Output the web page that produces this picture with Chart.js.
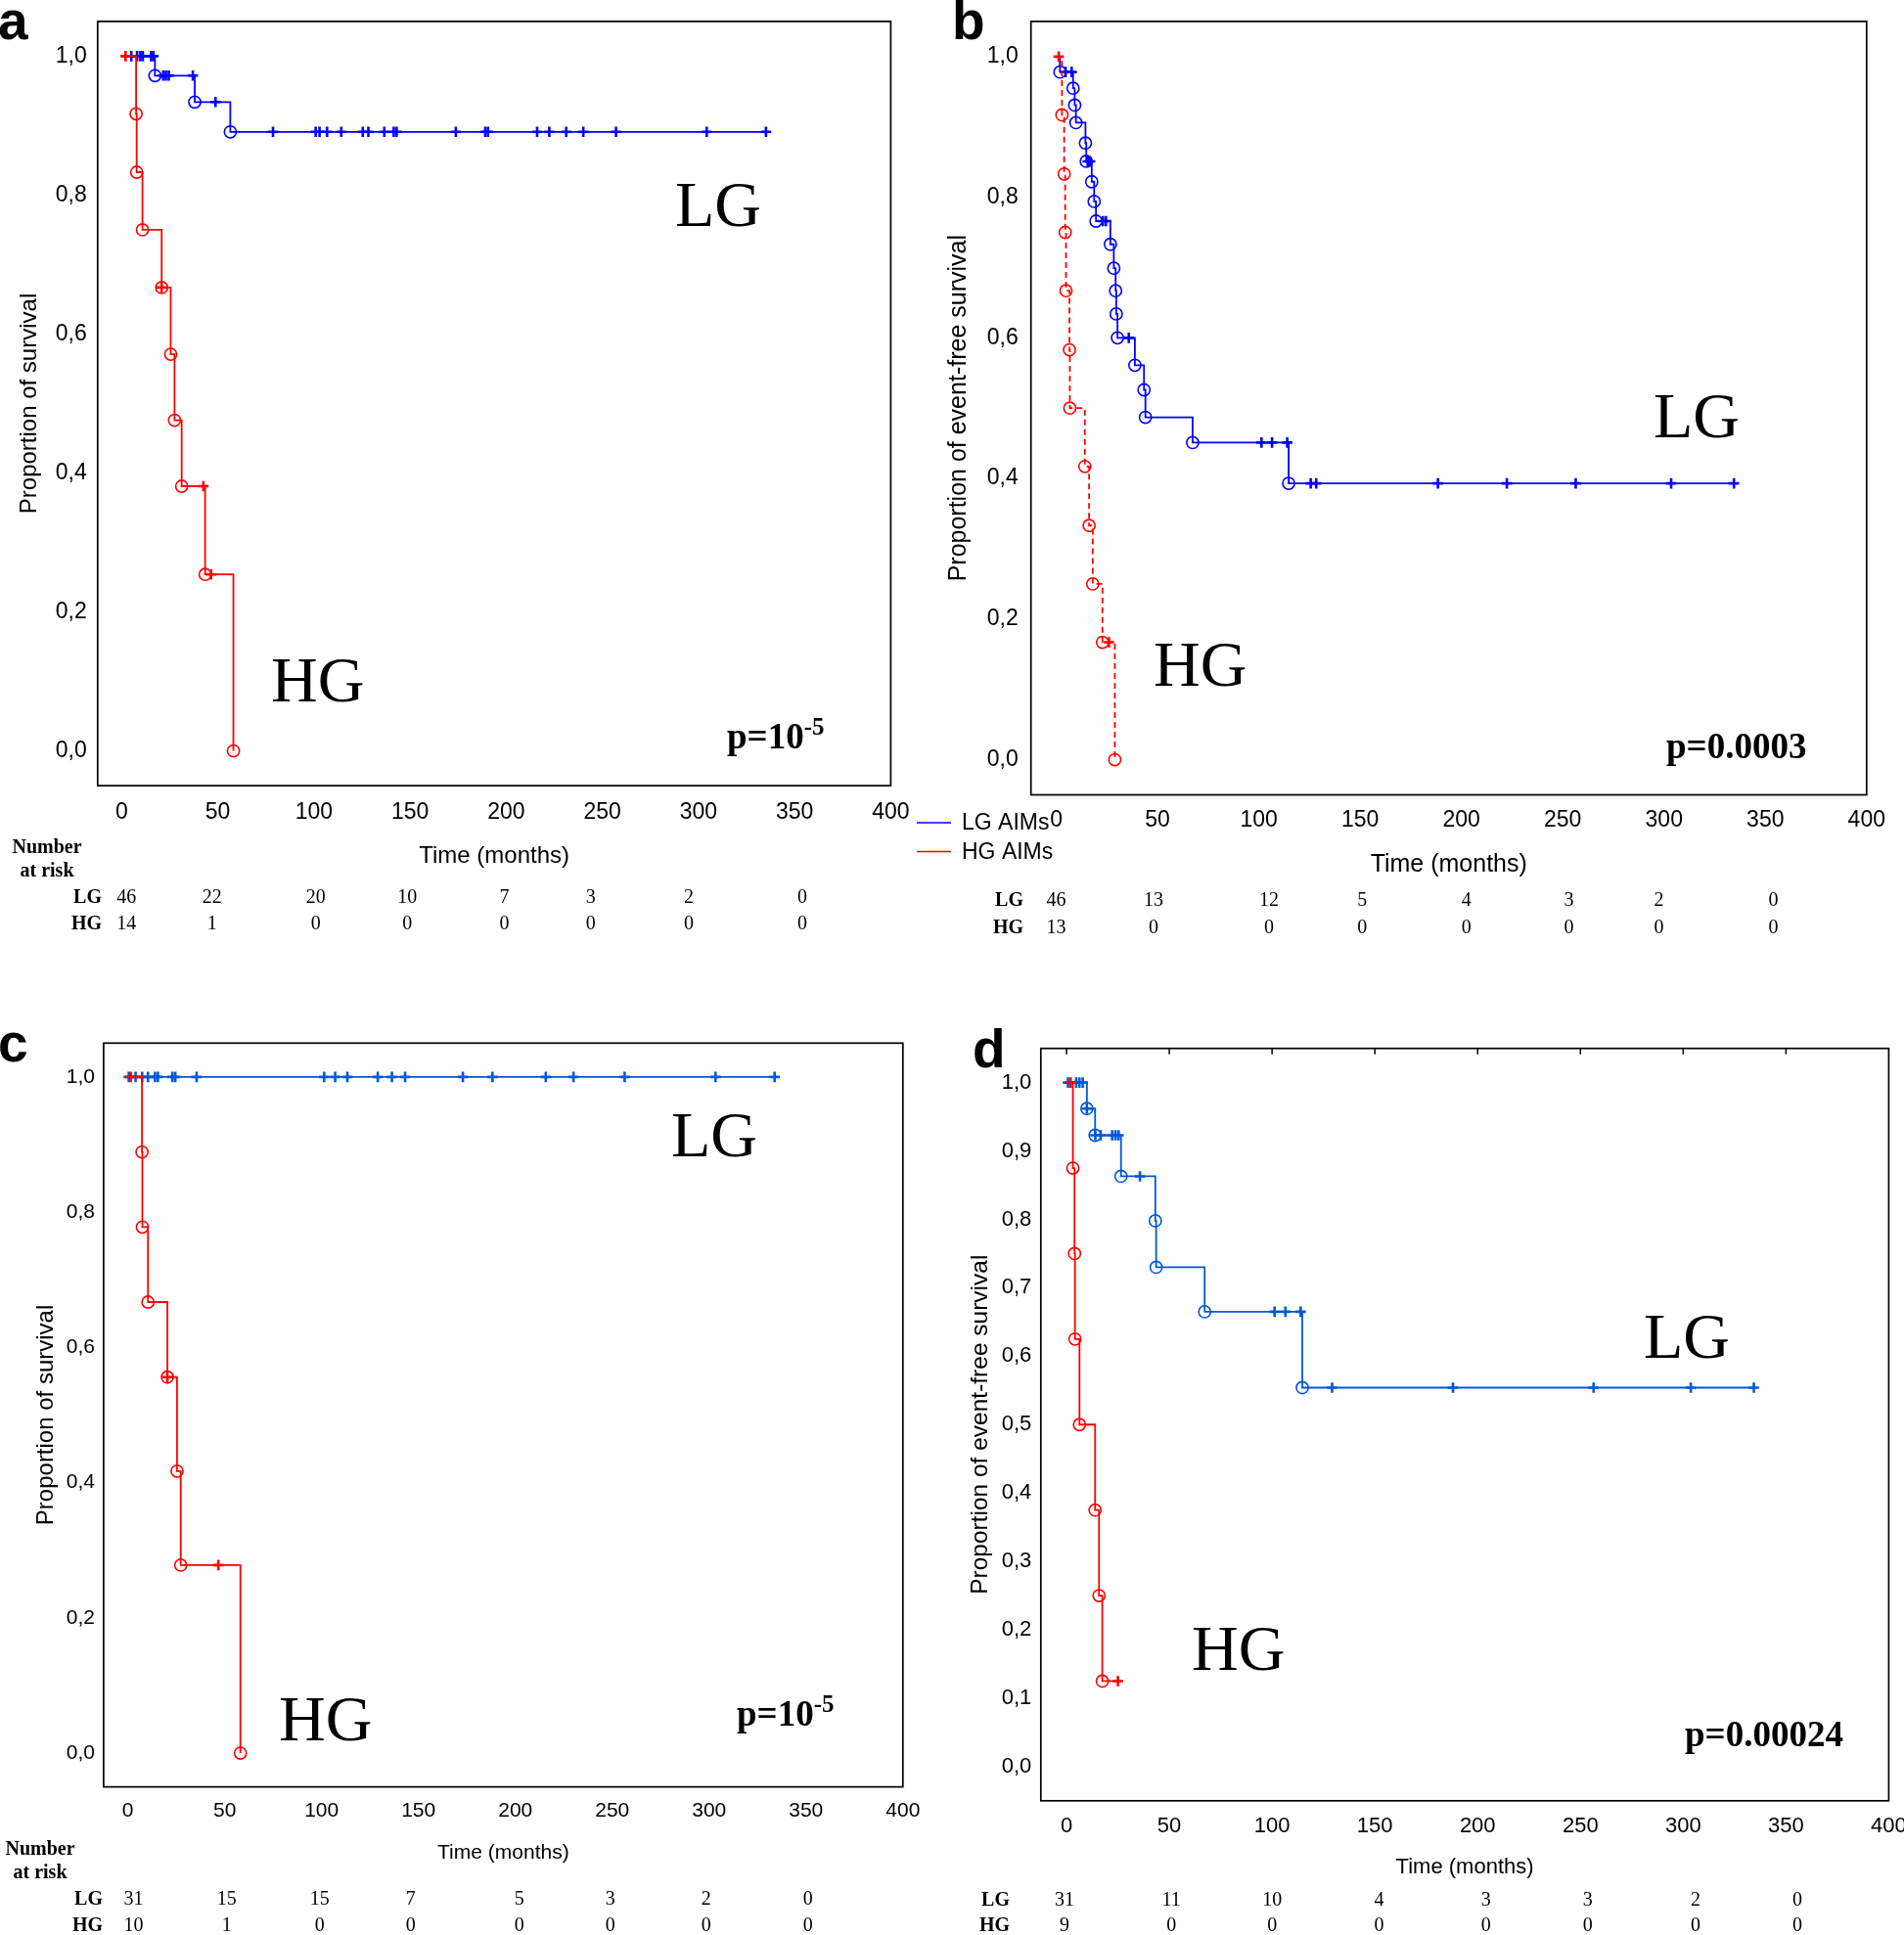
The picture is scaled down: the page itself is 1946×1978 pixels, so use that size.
<!DOCTYPE html>
<html>
<head>
<meta charset="utf-8">
<title>Kaplan-Meier curves LG vs HG</title>
<script src="https://cdn.jsdelivr.net/npm/chart.js@4.4.1/dist/chart.umd.min.js"></script>
<style>
html, body { margin: 0; padding: 0; background: #ffffff; }
#wrap { position: relative; width: 1946px; height: 1978px; overflow: hidden; background: #ffffff; }
#wrap canvas { position: absolute; left: 0; top: 0; }
</style>
</head>
<body>
<div id="wrap">
  <canvas id="chartA" width="1946" height="1978"></canvas>
  <canvas id="chartB" width="1946" height="1978"></canvas>
  <canvas id="chartC" width="1946" height="1978"></canvas>
  <canvas id="chartD" width="1946" height="1978"></canvas>
</div>
<script>
// ------------------------------------------------------------------
// DATA
// ------------------------------------------------------------------
const xTickValues = [0, 50, 100, 150, 200, 250, 300, 350, 400];
const xTickLabels = ['0', '50', '100', '150', '200', '250', '300', '350', '400'];
const yTickValuesStep2 = [0, 0.2, 0.4, 0.6, 0.8, 1.0];
const yTickLabelsStep2 = ['0,0', '0,2', '0,4', '0,6', '0,8', '1,0'];
const yTickValuesStep1 = [0, 0.1, 0.2, 0.3, 0.4, 0.5, 0.6, 0.7, 0.8, 0.9, 1.0];
const yTickLabelsStep1 = ['0,0', '0,1', '0,2', '0,3', '0,4', '0,5', '0,6', '0,7', '0,8', '0,9', '1,0'];
const groupNames = ['LG', 'HG'];
const legendLabels = ['LG AIMs', 'HG AIMs'];

// Panel a : overall survival
const aLGEventTimes = [17.3, 38, 56.5];
const aLGEventSurv  = [0.972, 0.934, 0.891];
const aLGCensorTimes = [5, 8, 9.7, 11, 15.3, 16.5, 21.6, 23, 24.5, 37, 48.8, 78.7, 100.9, 102.9, 106.8, 114.2, 125.4, 128.3, 136.6, 141.5, 143, 173.8, 189.1, 190.5, 216.1, 222.4, 231.2, 240.1, 257.1, 304.3, 335.1];
const aHGEventTimes = [7.5, 7.8, 10.8, 20.8, 25.5, 27.5, 31.2, 43.4, 58.1];
const aHGEventSurv  = [0.917, 0.833, 0.75, 0.667, 0.571, 0.476, 0.381, 0.254, 0];
const aHGCensorTimes = [2, 20.8, 42.5, 46.5];
const aRiskLG = [46, 22, 20, 10, 7, 3, 2, 0];
const aRiskHG = [14, 1, 0, 0, 0, 0, 0, 0];

// Panel b : event-free survival
const bLGEventTimes = [1.8, 8.3, 9.1, 9.7, 14.4, 14.8, 17.5, 18.7, 19.6, 26.7, 28.4, 29.3, 29.6, 30.2, 38.8, 43.3, 44, 67.3, 114.7];
const bLGEventSurv  = [0.978, 0.955, 0.931, 0.906, 0.877, 0.851, 0.822, 0.794, 0.766, 0.733, 0.699, 0.667, 0.634, 0.600, 0.561, 0.526, 0.487, 0.451, 0.393];
const bLGCensorTimes = [4.6, 7.6, 15.5, 16.7, 23, 24.5, 35.8, 101.3, 106.5, 114, 125.6, 128.3, 188.4, 222.4, 256.4, 303.5, 334.5];
const bHGEventTimes = [2.8, 3.9, 4.4, 4.8, 6.5, 6.7, 14.1, 16.2, 18, 22.8, 28.9];
const bHGEventSurv  = [0.917, 0.833, 0.75, 0.667, 0.583, 0.5, 0.417, 0.333, 0.25, 0.167, 0];
const bHGCensorTimes = [1.2, 26];
const bRiskLG = [46, 13, 12, 5, 4, 3, 2, 0];
const bRiskHG = [13, 0, 0, 0, 0, 0, 0, 0];

// Panel c : overall survival (subgroup)
const cLGEventTimes = [];
const cLGEventSurv  = [];
const cLGCensorTimes = [0.5, 4, 7.4, 10.4, 14, 15.5, 23, 24.5, 35.5, 101.3, 107, 113.3, 129, 136.3, 143.1, 172.9, 188.2, 215.7, 230, 256.4, 303.3, 333.8];
const cHGEventTimes = [7.3, 7.5, 10.4, 20.4, 25.4, 27.3, 58.1];
const cHGEventSurv  = [0.889, 0.778, 0.667, 0.556, 0.417, 0.278, 0];
const cHGCensorTimes = [1.5, 20.4, 46.7];
const cRiskLG = [31, 15, 15, 7, 5, 3, 2, 0];
const cRiskHG = [10, 1, 0, 0, 0, 0, 0, 0];

// Panel d : event-free survival (subgroup)
const dLGEventTimes = [9.9, 13.9, 26.5, 43.2, 43.6, 67.2, 114.7];
const dLGEventSurv  = [0.962, 0.923, 0.863, 0.798, 0.730, 0.665, 0.554];
const dLGCensorTimes = [0.7, 4.7, 6.3, 7.9, 9.9, 14, 16.6, 22.2, 23.8, 25.3, 35.7, 101.2, 106.5, 113.9, 129.2, 188, 256.4, 303.7, 334.4];
const dHGEventTimes = [3.1, 3.9, 4.1, 6.3, 13.9, 15.8, 17.4];
const dHGEventSurv  = [0.875, 0.75, 0.625, 0.5, 0.375, 0.25, 0.125];
const dHGCensorTimes = [2, 25];
const dRiskLG = [31, 11, 10, 4, 3, 3, 2, 0];
const dRiskHG = [9, 0, 0, 0, 0, 0, 0, 0];

// ------------------------------------------------------------------
// LAYOUT / STYLE (page pixels)
// ------------------------------------------------------------------
const SANS = '"Liberation Sans", Arial, Helvetica, sans-serif';
const SERIF = '"Liberation Serif", "Times New Roman", Times, serif';
const RED = '#ff0000';
const BLUE = '#0000ff';
const BLUE2 = '#0058d6';
const PAGE_W = 1946, PAGE_H = 1978;

const panels = [
  {
    canvas: 'chartA', letter: 'a', letterX: -2, letterY: 40,
    box: { left: 99.8, right: 910.4, top: 21.9, bottom: 803.1 },
    blue: BLUE, hgDash: [],
    tickSize: 23, xTitleSize: 24, yTitleSize: 24,
    yTitle: 'Proportion of survival', yTitleX: 30.6, xTitleY: 875,
    yTickPad: 11, xTickPad: 14.2,
    yTicks: yTickValuesStep2, yLabels: yTickLabelsStep2,
    lg: { x: 690, y: 231 }, hg: { x: 277, y: 717 },
    p: { main: 'p=10', sup: '-5', x: 743, y: 765 },
    km: { lg: [aLGEventTimes, aLGEventSurv, aLGCensorTimes], hg: [aHGEventTimes, aHGEventSurv, aHGCensorTimes] },
    risk: { lg: aRiskLG, hg: aRiskHG, rows: [917.5, 945], labelRight: 104, cols: [2.5, 47, 101, 148.5, 199, 244, 295, 354] },
    numberAtRisk: { x: 48, y1: 867, y2: 891 }
  },
  {
    canvas: 'chartB', letter: 'b', letterX: 973, letterY: 40,
    box: { left: 1053.7, right: 1907.8, top: 21.9, bottom: 812.5 },
    blue: BLUE, hgDash: [6, 4],
    tickSize: 23, xTitleSize: 25, yTitleSize: 25,
    yTitle: 'Proportion of event-free survival', yTitleX: 980, xTitleY: 884,
    yTickPad: 13, xTickPad: 12.7,
    yTicks: yTickValuesStep2, yLabels: yTickLabelsStep2,
    lg: { x: 1690, y: 447 }, hg: { x: 1179, y: 701 },
    p: { main: 'p=0.0003', sup: '', x: 1703, y: 775 },
    km: { lg: [bLGEventTimes, bLGEventSurv, bLGCensorTimes], hg: [bHGEventTimes, bHGEventSurv, bHGCensorTimes] },
    risk: { lg: bRiskLG, hg: bRiskHG, rows: [920.6, 948.8], labelRight: 1046, cols: [0, 48, 105, 151, 202.5, 253, 297.5, 354] },
    legend: { x0: 937, x1: 972, tx: 983, y: [841, 870.5] }
  },
  {
    canvas: 'chartC', letter: 'c', letterX: -2, letterY: 1085,
    box: { left: 105.9, right: 922.8, top: 1066.3, bottom: 1826.6 },
    blue: BLUE2, hgDash: [],
    tickSize: 21, xTitleSize: 21, yTitleSize: 24,
    yTitle: 'Proportion of survival', yTitleX: 47, xTitleY: 1894,
    yTickPad: 9, xTickPad: 12.5,
    yTicks: yTickValuesStep2, yLabels: yTickLabelsStep2,
    lg: { x: 686, y: 1182 }, hg: { x: 285, y: 1778.6 },
    p: { main: 'p=10', sup: '-5', x: 753, y: 1764 },
    km: { lg: [cLGEventTimes, cLGEventSurv, cLGCensorTimes], hg: [cHGEventTimes, cHGEventSurv, cHGCensorTimes] },
    risk: { lg: cRiskLG, hg: cRiskHG, rows: [1942, 1969], labelRight: 105, cols: [3, 51, 99, 146, 202, 249, 298.5, 351] },
    numberAtRisk: { x: 41, y1: 1890.5, y2: 1915 }
  },
  {
    canvas: 'chartD', letter: 'd', letterX: 994, letterY: 1091,
    box: { left: 1063.8, right: 1930.4, top: 1071.7, bottom: 1840.8 },
    blue: BLUE2, hgDash: [], topTicks: true,
    tickSize: 22, xTitleSize: 22, yTitleSize: 24.5,
    yTitle: 'Proportion of event-free survival', yTitleX: 1002, xTitleY: 1909,
    yTickPad: 9.5, xTickPad: 13,
    yTicks: yTickValuesStep1, yLabels: yTickLabelsStep1,
    lg: { x: 1680, y: 1388 }, hg: { x: 1218, y: 1707 },
    p: { main: 'p=0.00024', sup: '', x: 1722, y: 1785 },
    km: { lg: [dLGEventTimes, dLGEventSurv, dLGCensorTimes], hg: [dHGEventTimes, dHGEventSurv, dHGCensorTimes] },
    risk: { lg: dRiskLG, hg: dRiskHG, rows: [1943, 1969], labelRight: 1032, cols: [-1, 51, 100, 152, 204, 253.5, 306, 355.5] }
  }
];

// ------------------------------------------------------------------
// helpers
// ------------------------------------------------------------------
function survivalAt(evT, evS, t) {
  let s = 1;
  for (let i = 0; i < evT.length; i++) if (evT[i] <= t) s = evS[i];
  return s;
}
function buildKM(evT, evS, cenT) {
  const events = evT.map((t, i) => ({ x: t, y: evS[i] }));
  const censors = cenT.map(t => ({ x: t, y: survivalAt(evT, evS, t) }));
  const line = [{ x: 0, y: 1 }].concat(events, censors).sort((p, q) => p.x - q.x);
  return { events, censors, line };
}
function kmDatasets(km, color, dash) {
  return [
    { data: km.censors, showLine: false, pointStyle: 'cross', pointRadius: 5.3, pointBorderWidth: 2.6,
      pointBorderColor: color, pointBackgroundColor: color, pointHoverRadius: 5.3 },
    { data: km.events, showLine: false, pointStyle: 'circle', pointRadius: 6.1, pointBorderWidth: 1.6,
      pointBorderColor: color, pointBackgroundColor: 'rgba(0,0,0,0)', pointHoverRadius: 6.1 },
    { data: km.line, stepped: true, borderColor: color, borderWidth: 1.8, borderDash: dash,
      pointRadius: 0, pointHoverRadius: 0, fill: false, tension: 0 }
  ];
}

function annotationPlugin(P) {
  return {
    id: 'annot_' + P.letter,
    afterDraw(chart) {
      const ctx = chart.ctx;
      const area = chart.chartArea;
      const xs = chart.scales.x;
      ctx.save();
      // frame
      ctx.strokeStyle = '#000';
      ctx.lineWidth = 1.7;
      ctx.setLineDash([]);
      ctx.strokeRect(area.left, area.top, area.right - area.left, area.bottom - area.top);
      if (P.topTicks) {
        ctx.lineWidth = 1.5;
        xTickValues.slice(0, -1).forEach(v => {
          const px = xs.getPixelForValue(v);
          ctx.beginPath(); ctx.moveTo(px, area.top); ctx.lineTo(px, area.top + 6); ctx.stroke();
        });
      }
      ctx.fillStyle = '#000';
      ctx.textAlign = 'left';
      ctx.textBaseline = 'alphabetic';
      // panel letter
      ctx.font = 'bold 55px ' + SANS;
      ctx.fillText(P.letter, P.letterX, P.letterY);
      // group labels
      ctx.font = '66px ' + SERIF;
      ctx.fillText(groupNames[0], P.lg.x, P.lg.y);
      ctx.fillText(groupNames[1], P.hg.x, P.hg.y);
      // p value
      ctx.font = 'bold 37px ' + SERIF;
      ctx.fillText(P.p.main, P.p.x, P.p.y);
      if (P.p.sup) {
        const w = ctx.measureText(P.p.main).width;
        ctx.font = 'bold 25px ' + SERIF;
        ctx.fillText(P.p.sup, P.p.x + w, P.p.y - 14);
      }
      // number at risk
      if (P.numberAtRisk) {
        ctx.font = 'bold 20px ' + SERIF;
        ctx.textAlign = 'center';
        ctx.textBaseline = 'middle';
        ctx.fillText('Number', P.numberAtRisk.x, P.numberAtRisk.y1);
        ctx.fillText('at risk', P.numberAtRisk.x, P.numberAtRisk.y2);
      }
      const rows = [P.risk.lg, P.risk.hg];
      rows.forEach((vals, r) => {
        const y = P.risk.rows[r];
        ctx.font = 'bold 20px ' + SERIF;
        ctx.textAlign = 'right';
        ctx.textBaseline = 'middle';
        ctx.fillText(groupNames[r], P.risk.labelRight, y);
        ctx.font = '20px ' + SERIF;
        ctx.textAlign = 'center';
        vals.forEach((v, i) => {
          ctx.fillText(String(v), xs.getPixelForValue(P.risk.cols[i]), y);
        });
      });
      // legend
      if (P.legend) {
        const cols = [P.blue, RED];
        ctx.font = '23px ' + SANS;
        ctx.textAlign = 'left';
        ctx.textBaseline = 'middle';
        legendLabels.forEach((lab, i) => {
          ctx.strokeStyle = cols[i];
          ctx.lineWidth = 1.6;
          ctx.beginPath(); ctx.moveTo(P.legend.x0, P.legend.y[i]); ctx.lineTo(P.legend.x1, P.legend.y[i]); ctx.stroke();
          ctx.fillStyle = '#000';
          ctx.fillText(lab, P.legend.tx, P.legend.y[i] + 1);
        });
      }
      ctx.restore();
    }
  };
}

function makeChart(P) {
  const lgKM = buildKM(P.km.lg[0], P.km.lg[1], P.km.lg[2]);
  const hgKM = buildKM(P.km.hg[0], P.km.hg[1], P.km.hg[2]);
  const datasets = kmDatasets(hgKM, RED, P.hgDash).concat(kmDatasets(lgKM, P.blue, []));
  const xTitleLH = P.xTitleSize * 1.2;
  const yTitleLH = P.yTitleSize * 1.2;
  const xScaleBottom = P.xTitleY + xTitleLH / 2;
  return new Chart(document.getElementById(P.canvas), {
    type: 'line',
    data: { datasets },
    options: {
      responsive: false,
      animation: false,
      devicePixelRatio: 1,
      events: [],
      layout: {
        padding: { left: 0, top: P.box.top, right: PAGE_W - P.box.right, bottom: PAGE_H - xScaleBottom }
      },
      plugins: { legend: { display: false }, tooltip: { enabled: false }, title: { display: false } },
      scales: {
        x: {
          type: 'linear', min: -12.5, max: 400,
          grid: { display: false, drawTicks: false }, border: { display: false },
          afterBuildTicks: s => { s.ticks = xTickValues.map(v => ({ value: v })); },
          afterFit: s => {
            s.height = xScaleBottom - P.box.bottom;
            s.paddingLeft = 0; s.paddingRight = 0;
          },
          ticks: {
            color: '#000', padding: P.xTickPad, autoSkip: false, maxRotation: 0, minRotation: 0,
            font: { family: SANS, size: P.tickSize },
            callback: (v, i) => xTickLabels[i]
          },
          title: {
            display: true, text: 'Time (months)', color: '#000',
            font: { family: SANS, size: P.xTitleSize }, padding: { top: 0, bottom: 0 }
          }
        },
        y: {
          type: 'linear', min: -0.05, max: 1.05,
          grid: { display: false, drawTicks: false }, border: { display: false },
          afterBuildTicks: s => { s.ticks = P.yTicks.map(v => ({ value: v })); },
          afterFit: s => {
            s.width = P.box.left;
            s.paddingTop = 0; s.paddingBottom = 0;
          },
          ticks: {
            color: '#000', padding: P.yTickPad, autoSkip: false,
            font: { family: SANS, size: P.tickSize },
            callback: (v, i) => P.yLabels[i]
          },
          title: {
            display: true, text: P.yTitle, color: '#000',
            font: { family: SANS, size: P.yTitleSize },
            padding: { top: P.yTitleX - yTitleLH / 2, bottom: 0 }
          }
        }
      }
    },
    plugins: [annotationPlugin(P)]
  });
}

panels.forEach(makeChart);
</script>
</body>
</html>
